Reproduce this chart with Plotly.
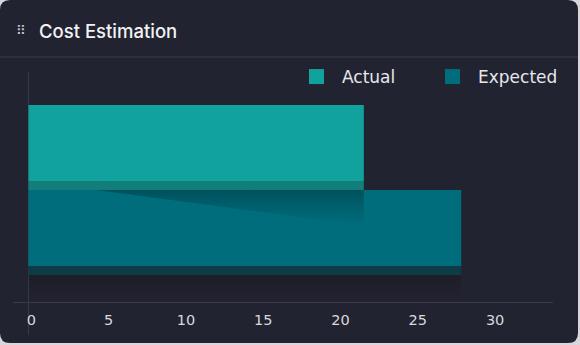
import plotly.graph_objects as go

# ---- data ----
categories = ["Actual", "Expected"]
values = [21.7, 28.0]
face_colors = ["#12a29d", "#006d7d"]
side_colors = ["#117e7a", "#0c3c45"]
x_ticks = [0, 5, 10, 15, 20, 25, 30]
title_text = "Cost Estimation"

# positions (top to bottom)
positions = [1, 0]

# ---- layout geometry (pixels) ----
W, H = 580, 345
L, R, T, B = 13, 27, 72, 43
PW, PH = W - L - R, H - T - B
FONT = "DejaVu Sans, Inter, sans-serif"


def px(x):
    return (x - L) / PW


def py(y):
    return (H - B - y) / PH


SLOT_SIDE = 9 / 85.0  # share of slot used by 3-D bottom side

fig = go.Figure()

# shadow under the lowest bar
low_i = positions.index(min(positions))
lv = values[low_i]
lp = positions[low_i]
fig.add_trace(go.Scatter(
    x=[0, lv, lv, 0, 0], y=[lp - 0.5, lp - 0.5, lp - 0.8, lp - 0.8, lp - 0.5],
    mode="lines", line=dict(width=0), fill="toself",
    fillgradient=dict(type="vertical", colorscale=[[0, "rgba(0,0,0,0)"], [1, "rgba(0,0,0,0.16)"]]),
    hoverinfo="skip", showlegend=False))

for cat, v, pos, fc, sc in zip(categories, values, positions, face_colors, side_colors):
    # face
    fig.add_trace(go.Bar(
        x=[v], y=[pos], orientation="h", name=cat,
        marker=dict(color=fc, line=dict(width=0)),
        offset=-0.5 + SLOT_SIDE, width=1 - SLOT_SIDE, showlegend=False))
    # bottom side
    fig.add_trace(go.Bar(
        x=[v], y=[pos], orientation="h", name=cat,
        marker=dict(color=sc, line=dict(width=0)),
        offset=-0.5, width=SLOT_SIDE, showlegend=False, hoverinfo="skip"))

# diagonal shadow cast by top bar on the lower bar
top_v = values[0]
low_face_top = positions[1] + 0.5
fig.add_trace(go.Scatter(
    x=[top_v * 0.2, top_v, top_v, top_v * 0.2],
    y=[low_face_top, low_face_top, low_face_top - 0.42, low_face_top],
    mode="lines", line=dict(width=0), fill="toself",
    fillgradient=dict(type="vertical", colorscale=[[0, "rgba(0,0,0,0)"], [0.5, "rgba(0,0,0,0.12)"],
                                                   [1, "rgba(0,0,0,0.26)"]]),
    hoverinfo="skip", showlegend=False))

# legend entries
for cat, fc in zip(categories, face_colors):
    fig.add_trace(go.Scatter(
        x=[None], y=[None], mode="markers", name=cat,
        marker=dict(symbol="square", size=15, color=fc)))

card = "#222330"
shapes = []
# card with rounded corners
r = 10
x0, x1, y0, y1 = 0, 578, 0, 343
path = (f"M{px(x0 + r)},{py(y0)} L{px(x1 - r)},{py(y0)} Q{px(x1)},{py(y0)} {px(x1)},{py(y0 + r)} "
        f"L{px(x1)},{py(y1 - r)} Q{px(x1)},{py(y1)} {px(x1 - r)},{py(y1)} "
        f"L{px(x0 + r)},{py(y1)} Q{px(x0)},{py(y1)} {px(x0)},{py(y1 - r)} "
        f"L{px(x0)},{py(y0 + r)} Q{px(x0)},{py(y0)} {px(x0 + r)},{py(y0)} Z")
shapes.append(dict(type="path", xref="paper", yref="paper", path=path,
                   fillcolor=card, line=dict(width=0), layer="below"))
# header separator
shapes.append(dict(type="line", xref="paper", yref="paper", x0=px(0), x1=px(578),
                   y0=py(57), y1=py(57), line=dict(color="#3a3b4a", width=1)))
# vertical axis line
shapes.append(dict(type="line", xref="x", yref="paper", x0=0, x1=0,
                   y0=py(335), y1=1, line=dict(color="#3a3b4a", width=1), layer="below"))

fig.update_layout(
    width=W, height=H,
    margin=dict(l=L, r=R, t=T, b=B, pad=0, autoexpand=False),
    paper_bgcolor="#d8d8dc",
    plot_bgcolor="rgba(0,0,0,0)",
    barmode="overlay",
    font=dict(family=FONT, color="#d8d8de", size=14),
    shapes=shapes,
    showlegend=True,
    legend=dict(orientation="h", x=px(291), y=py(77), xanchor="left", yanchor="middle",
                bgcolor="rgba(0,0,0,0)", font=dict(size=17, color="#e6e6ec", family=FONT),
                itemwidth=41, entrywidth=80, traceorder="normal", itemclick=False),
    annotations=[
        dict(text=title_text, xref="paper", yref="paper", x=px(37), y=py(31),
             xanchor="left", yanchor="middle", showarrow=False,
             font=dict(size=18.5, color="#f2f2f6", family="Inter, DejaVu Sans, sans-serif", weight=500)),
        dict(text="⠿", xref="paper", yref="paper", x=px(21), y=py(31),
             xanchor="center", yanchor="middle", showarrow=False,
             font=dict(size=13, color="#c8c8d0", family="DejaVu Sans")),
    ],
    xaxis=dict(range=[-1, 33.94], tickvals=x_ticks, ticktext=[str(t) for t in x_ticks],
               showgrid=False, zeroline=False, showline=True, linecolor="#3a3b4a", linewidth=1,
               ticks="", ticklabelstandoff=5, ticklabelshift=3,
               tickfont=dict(size=14.5, color="#d8d8de", family=FONT), fixedrange=True),
    yaxis=dict(range=[-0.8176, 1.888], showgrid=False, zeroline=False, showline=False,
               showticklabels=False, ticks="", fixedrange=True),
)

fig.write_html("out.html")
